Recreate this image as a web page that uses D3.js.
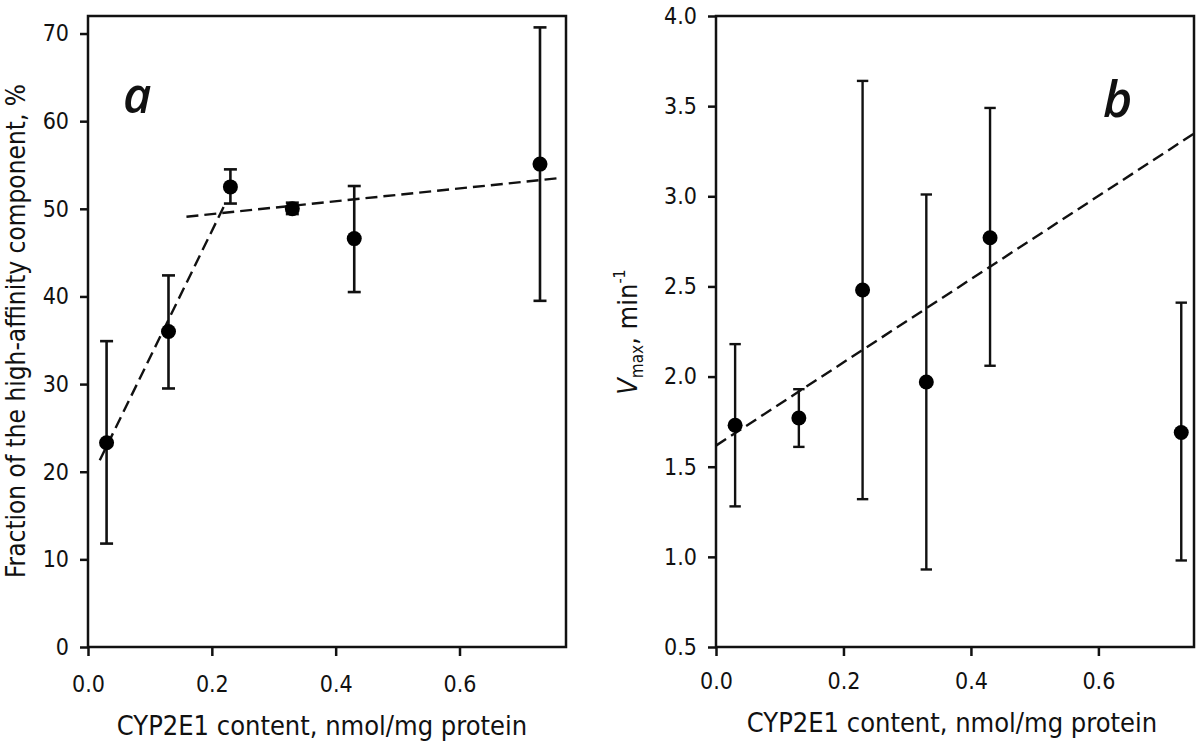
<!DOCTYPE html>
<html>
<head>
<meta charset="utf-8">
<script src="https://cdn.jsdelivr.net/npm/d3@7"></script>
<style>
  html, body { margin: 0; padding: 0; background: #fff; }
  svg { display: block; }
  text { fill: #111; }
</style>
</head>
<body>
<svg id="chart" width="1200" height="745"></svg>
<script>
// ---------- Data ----------
const cyp2e1 = [0.03, 0.13, 0.23, 0.33, 0.43, 0.73];

// Panel a: fraction of the high-affinity component, %
const fraction = [23.3, 36.0, 52.5, 50.0, 46.6, 55.1];
const fractionLow = [11.8, 29.5, 50.6, 49.4, 40.5, 39.5];
const fractionHigh = [34.9, 42.4, 54.5, 50.7, 52.6, 70.7];
const fitA1 = [[0.019, 21.3], [0.221, 50.5]];
const fitA2 = [[0.159, 49.1], [0.761, 53.5]];

// Panel b: Vmax, min^-1
const vmax = [1.73, 1.77, 2.48, 1.97, 2.77, 1.69];
const vmaxLow = [1.28, 1.61, 1.32, 0.93, 2.06, 0.98];
const vmaxHigh = [2.18, 1.93, 3.64, 3.01, 3.49, 2.41];
const fitB = [[0.0, 1.617], [0.75, 3.348]];

const xTicks = [0.0, 0.2, 0.4, 0.6];
const yTicksA = [0, 10, 20, 30, 40, 50, 60, 70];
const yTicksB = [0.5, 1.0, 1.5, 2.0, 2.5, 3.0, 3.5, 4.0];

const xLabel = "CYP2E1 content, nmol/mg protein";
const yLabelA = "Fraction of the high-affinity component, %";

// ---------- Drawing ----------
const svg = d3.select("#chart");
const FONT = "'DejaVu Sans Condensed', 'DejaVu Sans', sans-serif";

function panel(opts) {
  const g = svg.append("g");
  const x = d3.scaleLinear().domain(opts.xDomain).range([opts.left, opts.right]);
  const y = d3.scaleLinear().domain(opts.yDomain).range([opts.bottom, opts.top]);

  // frame
  g.append("rect")
    .attr("x", opts.left).attr("y", opts.top)
    .attr("width", opts.right - opts.left).attr("height", opts.bottom - opts.top)
    .attr("fill", "none").attr("stroke", "#111").attr("stroke-width", 2.5);

  // x axis
  const xa = g.append("g")
    .attr("transform", `translate(0,${opts.bottom})`)
    .call(d3.axisBottom(x).tickValues(xTicks).tickFormat(d3.format(".1f"))
      .tickSize(9).tickPadding(opts.xPad));
  // y axis
  const ya = g.append("g")
    .attr("transform", `translate(${opts.left},0)`)
    .call(d3.axisLeft(y).tickValues(opts.yTicks).tickFormat(opts.yFmt)
      .tickSize(8).tickPadding(opts.yPad));
  [xa, ya].forEach(a => {
    a.select(".domain").remove();
    a.selectAll(".tick line").attr("stroke", "#111").attr("stroke-width", 2.5);
    a.selectAll(".tick text").attr("font-family", FONT).attr("font-size", 23).attr("fill", "#111");
  });

  // fit lines
  const line = d3.line().x(d => x(d[0])).y(d => y(d[1]));
  opts.fits.forEach(f => {
    g.append("path").attr("d", line(f))
      .attr("fill", "none").attr("stroke", "#111")
      .attr("stroke-width", 2.4).attr("stroke-dasharray", "12,6");
  });

  // error bars
  const eb = g.append("g").attr("stroke", "#111").attr("stroke-width", opts.ebWidth);
  opts.xs.forEach((xv, i) => {
    eb.append("line").attr("x1", x(xv)).attr("x2", x(xv))
      .attr("y1", y(opts.lo[i])).attr("y2", y(opts.hi[i]));
    [opts.lo[i], opts.hi[i]].forEach(v => {
      eb.append("line").attr("x1", x(xv) - opts.cap).attr("x2", x(xv) + opts.cap)
        .attr("y1", y(v)).attr("y2", y(v));
    });
  });

  // points
  g.append("g").selectAll("circle").data(opts.xs).join("circle")
    .attr("cx", d => x(d)).attr("cy", (d, i) => y(opts.ys[i]))
    .attr("r", 7.5).attr("fill", "#000");

  return {g, x, y};
}

const A = panel({
  left: 88, right: 566, top: 16, bottom: 647,
  xDomain: [0, 0.772], yDomain: [0, 72],
  yTicks: yTicksA, yFmt: d3.format("d"),
  xPad: 20, yPad: 11,
  xs: cyp2e1, ys: fraction, lo: fractionLow, hi: fractionHigh,
  fits: [fitA1, fitA2], cap: 6.5, ebWidth: 2.6
});

const B = panel({
  left: 716, right: 1194, top: 16, bottom: 647,
  xDomain: [0, 0.75], yDomain: [0.5, 4.0],
  yTicks: yTicksB, yFmt: d3.format(".1f"),
  xPad: 17, yPad: 11,
  xs: cyp2e1, ys: vmax, lo: vmaxLow, hi: vmaxHigh,
  fits: [fitB], cap: 5.7, ebWidth: 2.4
});

// x labels
svg.append("text").attr("x", 322).attr("y", 735)
  .attr("text-anchor", "middle").attr("font-family", FONT).attr("font-size", 27)
  .text(xLabel);
svg.append("text").attr("x", 952).attr("y", 732)
  .attr("text-anchor", "middle").attr("font-family", FONT).attr("font-size", 27)
  .text(xLabel);

// y label a
svg.append("text")
  .attr("transform", "translate(25,331) rotate(-90)")
  .attr("text-anchor", "middle").attr("font-family", FONT).attr("font-size", 26)
  .text(yLabelA);

// y label b: V_max, min^-1
const yb = svg.append("text")
  .attr("transform", "translate(637,332) rotate(-90)")
  .attr("text-anchor", "middle").attr("font-family", FONT).attr("font-size", 27);
yb.append("tspan").attr("font-style", "italic").text("V");
yb.append("tspan").attr("font-size", 17).attr("dy", 6).text("max");
yb.append("tspan").attr("dy", -6).text(", min");
yb.append("tspan").attr("font-size", 16).attr("dy", -12).text("-1");

// panel letters
svg.append("text").attr("x", 123).attr("y", 113)
  .attr("font-family", "'Open Sans', sans-serif").attr("font-style", "italic")
  .attr("font-weight", 600).attr("font-size", 49).text("a");
svg.append("text").attr("x", 1103).attr("y", 117)
  .attr("font-family", "'Open Sans', sans-serif").attr("font-style", "italic")
  .attr("font-weight", 600).attr("font-size", 50).text("b");
</script>
</body>
</html>
